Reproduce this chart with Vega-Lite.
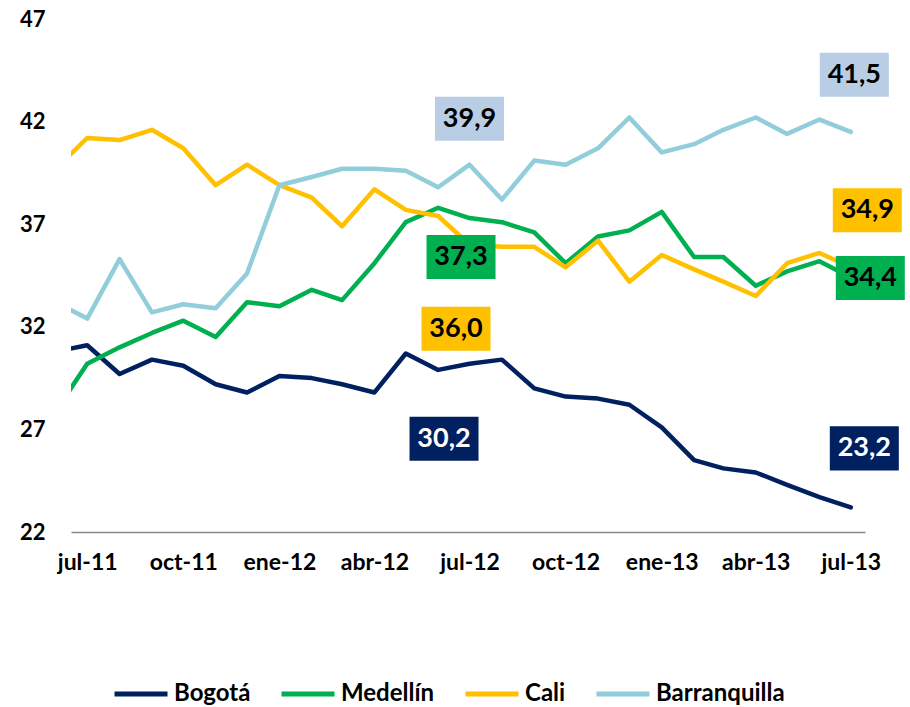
{
  "$schema": "https://vega.github.io/schema/vega-lite/v6.json",
  "width": 794,
  "height": 513,
  "autosize": {"type": "none"},
  "padding": {"left": 71, "top": 19, "right": 45, "bottom": 175},
  "background": "white",
  "config": {"view": {"stroke": null}, "font": "Lato"},
  "data": {
    "format": {"parse": {"month": "date"}},
    "values": [
      {"city": "Bogotá", "month": "2011-06-01", "value": 30.8},
      {"city": "Bogotá", "month": "2011-07-01", "value": 31.1},
      {"city": "Bogotá", "month": "2011-08-01", "value": 29.7},
      {"city": "Bogotá", "month": "2011-09-01", "value": 30.4},
      {"city": "Bogotá", "month": "2011-10-01", "value": 30.1},
      {"city": "Bogotá", "month": "2011-11-01", "value": 29.2},
      {"city": "Bogotá", "month": "2011-12-01", "value": 28.8},
      {"city": "Bogotá", "month": "2012-01-01", "value": 29.6},
      {"city": "Bogotá", "month": "2012-02-01", "value": 29.5},
      {"city": "Bogotá", "month": "2012-03-01", "value": 29.2},
      {"city": "Bogotá", "month": "2012-04-01", "value": 28.8},
      {"city": "Bogotá", "month": "2012-05-01", "value": 30.7},
      {"city": "Bogotá", "month": "2012-06-01", "value": 29.9},
      {"city": "Bogotá", "month": "2012-07-01", "value": 30.2},
      {"city": "Bogotá", "month": "2012-08-01", "value": 30.4},
      {"city": "Bogotá", "month": "2012-09-01", "value": 29.0},
      {"city": "Bogotá", "month": "2012-10-01", "value": 28.6},
      {"city": "Bogotá", "month": "2012-11-01", "value": 28.5},
      {"city": "Bogotá", "month": "2012-12-01", "value": 28.2},
      {"city": "Bogotá", "month": "2013-01-01", "value": 27.1},
      {"city": "Bogotá", "month": "2013-02-01", "value": 25.5},
      {"city": "Bogotá", "month": "2013-03-01", "value": 25.1},
      {"city": "Bogotá", "month": "2013-04-01", "value": 24.9},
      {"city": "Bogotá", "month": "2013-05-01", "value": 24.3},
      {"city": "Bogotá", "month": "2013-06-01", "value": 23.7},
      {"city": "Bogotá", "month": "2013-07-01", "value": 23.2},
      {"city": "Medellín", "month": "2011-06-01", "value": 27.9},
      {"city": "Medellín", "month": "2011-07-01", "value": 30.2},
      {"city": "Medellín", "month": "2011-08-01", "value": 31.0},
      {"city": "Medellín", "month": "2011-09-01", "value": 31.7},
      {"city": "Medellín", "month": "2011-10-01", "value": 32.3},
      {"city": "Medellín", "month": "2011-11-01", "value": 31.5},
      {"city": "Medellín", "month": "2011-12-01", "value": 33.2},
      {"city": "Medellín", "month": "2012-01-01", "value": 33.0},
      {"city": "Medellín", "month": "2012-02-01", "value": 33.8},
      {"city": "Medellín", "month": "2012-03-01", "value": 33.3},
      {"city": "Medellín", "month": "2012-04-01", "value": 35.1},
      {"city": "Medellín", "month": "2012-05-01", "value": 37.1},
      {"city": "Medellín", "month": "2012-06-01", "value": 37.8},
      {"city": "Medellín", "month": "2012-07-01", "value": 37.3},
      {"city": "Medellín", "month": "2012-08-01", "value": 37.1},
      {"city": "Medellín", "month": "2012-09-01", "value": 36.6},
      {"city": "Medellín", "month": "2012-10-01", "value": 35.1},
      {"city": "Medellín", "month": "2012-11-01", "value": 36.4},
      {"city": "Medellín", "month": "2012-12-01", "value": 36.7},
      {"city": "Medellín", "month": "2013-01-01", "value": 37.6},
      {"city": "Medellín", "month": "2013-02-01", "value": 35.4},
      {"city": "Medellín", "month": "2013-03-01", "value": 35.4},
      {"city": "Medellín", "month": "2013-04-01", "value": 34.0},
      {"city": "Medellín", "month": "2013-05-01", "value": 34.7},
      {"city": "Medellín", "month": "2013-06-01", "value": 35.2},
      {"city": "Medellín", "month": "2013-07-01", "value": 34.4},
      {"city": "Cali", "month": "2011-06-01", "value": 39.7},
      {"city": "Cali", "month": "2011-07-01", "value": 41.2},
      {"city": "Cali", "month": "2011-08-01", "value": 41.1},
      {"city": "Cali", "month": "2011-09-01", "value": 41.6},
      {"city": "Cali", "month": "2011-10-01", "value": 40.7},
      {"city": "Cali", "month": "2011-11-01", "value": 38.9},
      {"city": "Cali", "month": "2011-12-01", "value": 39.9},
      {"city": "Cali", "month": "2012-01-01", "value": 38.9},
      {"city": "Cali", "month": "2012-02-01", "value": 38.3},
      {"city": "Cali", "month": "2012-03-01", "value": 36.9},
      {"city": "Cali", "month": "2012-04-01", "value": 38.7},
      {"city": "Cali", "month": "2012-05-01", "value": 37.7},
      {"city": "Cali", "month": "2012-06-01", "value": 37.4},
      {"city": "Cali", "month": "2012-07-01", "value": 36.0},
      {"city": "Cali", "month": "2012-08-01", "value": 35.9},
      {"city": "Cali", "month": "2012-09-01", "value": 35.9},
      {"city": "Cali", "month": "2012-10-01", "value": 34.9},
      {"city": "Cali", "month": "2012-11-01", "value": 36.2},
      {"city": "Cali", "month": "2012-12-01", "value": 34.2},
      {"city": "Cali", "month": "2013-01-01", "value": 35.5},
      {"city": "Cali", "month": "2013-02-01", "value": 34.8},
      {"city": "Cali", "month": "2013-03-01", "value": 34.2},
      {"city": "Cali", "month": "2013-04-01", "value": 33.5},
      {"city": "Cali", "month": "2013-05-01", "value": 35.1},
      {"city": "Cali", "month": "2013-06-01", "value": 35.6},
      {"city": "Cali", "month": "2013-07-01", "value": 34.9},
      {"city": "Barranquilla", "month": "2011-06-01", "value": 33.2},
      {"city": "Barranquilla", "month": "2011-07-01", "value": 32.4},
      {"city": "Barranquilla", "month": "2011-08-01", "value": 35.3},
      {"city": "Barranquilla", "month": "2011-09-01", "value": 32.7},
      {"city": "Barranquilla", "month": "2011-10-01", "value": 33.1},
      {"city": "Barranquilla", "month": "2011-11-01", "value": 32.9},
      {"city": "Barranquilla", "month": "2011-12-01", "value": 34.6},
      {"city": "Barranquilla", "month": "2012-01-01", "value": 38.9},
      {"city": "Barranquilla", "month": "2012-02-01", "value": 39.3},
      {"city": "Barranquilla", "month": "2012-03-01", "value": 39.7},
      {"city": "Barranquilla", "month": "2012-04-01", "value": 39.7},
      {"city": "Barranquilla", "month": "2012-05-01", "value": 39.6},
      {"city": "Barranquilla", "month": "2012-06-01", "value": 38.8},
      {"city": "Barranquilla", "month": "2012-07-01", "value": 39.9},
      {"city": "Barranquilla", "month": "2012-08-01", "value": 38.2},
      {"city": "Barranquilla", "month": "2012-09-01", "value": 40.1},
      {"city": "Barranquilla", "month": "2012-10-01", "value": 39.9},
      {"city": "Barranquilla", "month": "2012-11-01", "value": 40.7},
      {"city": "Barranquilla", "month": "2012-12-01", "value": 42.2},
      {"city": "Barranquilla", "month": "2013-01-01", "value": 40.5},
      {"city": "Barranquilla", "month": "2013-02-01", "value": 40.9},
      {"city": "Barranquilla", "month": "2013-03-01", "value": 41.6},
      {"city": "Barranquilla", "month": "2013-04-01", "value": 42.2},
      {"city": "Barranquilla", "month": "2013-05-01", "value": 41.4},
      {"city": "Barranquilla", "month": "2013-06-01", "value": 42.1},
      {"city": "Barranquilla", "month": "2013-07-01", "value": 41.5}
    ]
  },
  "encoding": {
    "x": {
      "field": "month",
      "type": "temporal",
      "scale": {
        "type": "utc",
        "domain": [
          {"year": 2011, "month": 6, "date": 15, "hours": 12, "utc": true},
          {"year": 2013, "month": 7, "date": 14, "hours": 14, "utc": true}
        ]
      },
      "axis": {
        "title": null,
        "grid": false,
        "ticks": false,
        "domainColor": "#8a8a8a",
        "domainWidth": 1.5,
        "values": [
          {"year": 2011, "month": 7, "date": 1, "utc": true},
          {"year": 2011, "month": 10, "date": 1, "utc": true},
          {"year": 2012, "month": 1, "date": 1, "utc": true},
          {"year": 2012, "month": 4, "date": 1, "utc": true},
          {"year": 2012, "month": 7, "date": 1, "utc": true},
          {"year": 2012, "month": 10, "date": 1, "utc": true},
          {"year": 2013, "month": 1, "date": 1, "utc": true},
          {"year": 2013, "month": 4, "date": 1, "utc": true},
          {"year": 2013, "month": 7, "date": 1, "utc": true}
        ],
        "labelExpr": "['ene','feb','mar','abr','may','jun','jul','ago','sep','oct','nov','dic'][utcmonth(datum.value)] + '-' + utcFormat(datum.value, '%y')",
        "labelFont": "Lato",
        "labelFontSize": 23,
        "labelFontWeight": "bold",
        "labelColor": "#000000",
        "labelPadding": 19,
        "labelFlush": false,
        "labelOverlap": false
      }
    },
    "y": {
      "field": "value",
      "type": "quantitative",
      "scale": {"domain": [22, 47], "nice": false, "zero": false},
      "axis": {
        "title": null,
        "grid": false,
        "domain": false,
        "ticks": false,
        "values": [22, 27, 32, 37, 42, 47],
        "labelFont": "Lato",
        "labelFontSize": 22,
        "labelFontWeight": "bold",
        "labelColor": "#000000",
        "labelPadding": 26
      }
    }
  },
  "layer": [
    {
      "mark": {"type": "line", "strokeWidth": 4.5, "clip": true, "strokeJoin": "round", "strokeCap": "round"},
      "encoding": {
        "color": {
          "field": "city",
          "type": "nominal",
          "scale": {
            "domain": ["Bogotá", "Medellín", "Cali", "Barranquilla"],
            "range": ["#002060", "#00B050", "#FFC000", "#92CDDC"]
          },
          "legend": {
            "orient": "none",
            "legendX": 41,
            "legendY": 646,
            "direction": "horizontal",
            "title": null,
            "symbolType": "stroke",
            "symbolStrokeWidth": 5,
            "symbolSize": 2809,
            "labelFont": "Lato",
            "labelFontSize": 24,
            "labelFontWeight": "bold",
            "labelColor": "#000000",
            "labelOffset": 4,
            "columnPadding": 20,
            "padding": 0
          }
        }
      }
    },
    {
      "transform": [
        {"filter": {"and": [{"field": "city", "equal": "Barranquilla"}, {"field": "month", "equal": {"year": 2012, "month": 7, "date": 1, "utc": true}}]}},
        {"calculate": "replace(format(datum.value, '.1f'), '.', ',')", "as": "label"}
      ],
      "layer": [
        {"mark": {"type": "point", "shape": "M-1,-0.638H1V0.638H-1Z", "size": 4761, "filled": true, "opacity": 1, "color": "#B9CDE5", "strokeWidth": 0, "xOffset": 0, "yOffset": -46}},
        {"mark": {"type": "text", "font": "Lato", "fontSize": 27, "fontWeight": "bold", "color": "#000000", "baseline": "middle", "align": "center", "dx": 0, "dy": -46}, "encoding": {"text": {"field": "label"}}}
      ]
    },
    {
      "transform": [
        {"filter": {"and": [{"field": "city", "equal": "Medellín"}, {"field": "month", "equal": {"year": 2012, "month": 7, "date": 1, "utc": true}}]}},
        {"calculate": "replace(format(datum.value, '.1f'), '.', ',')", "as": "label"}
      ],
      "layer": [
        {"mark": {"type": "point", "shape": "M-1,-0.638H1V0.638H-1Z", "size": 4761, "filled": true, "opacity": 1, "color": "#00B050", "strokeWidth": 0, "xOffset": -8.5, "yOffset": 39}},
        {"mark": {"type": "text", "font": "Lato", "fontSize": 27, "fontWeight": "bold", "color": "#000000", "baseline": "middle", "align": "center", "dx": -8.5, "dy": 39}, "encoding": {"text": {"field": "label"}}}
      ]
    },
    {
      "transform": [
        {"filter": {"and": [{"field": "city", "equal": "Cali"}, {"field": "month", "equal": {"year": 2012, "month": 7, "date": 1, "utc": true}}]}},
        {"calculate": "replace(format(datum.value, '.1f'), '.', ',')", "as": "label"}
      ],
      "layer": [
        {"mark": {"type": "point", "shape": "M-1,-0.638H1V0.638H-1Z", "size": 4761, "filled": true, "opacity": 1, "color": "#FFC000", "strokeWidth": 0, "xOffset": -13.5, "yOffset": 84}},
        {"mark": {"type": "text", "font": "Lato", "fontSize": 27, "fontWeight": "bold", "color": "#000000", "baseline": "middle", "align": "center", "dx": -13.5, "dy": 84}, "encoding": {"text": {"field": "label"}}}
      ]
    },
    {
      "transform": [
        {"filter": {"and": [{"field": "city", "equal": "Bogotá"}, {"field": "month", "equal": {"year": 2012, "month": 7, "date": 1, "utc": true}}]}},
        {"calculate": "replace(format(datum.value, '.1f'), '.', ',')", "as": "label"}
      ],
      "layer": [
        {"mark": {"type": "point", "shape": "M-1,-0.638H1V0.638H-1Z", "size": 4761, "filled": true, "opacity": 1, "color": "#002060", "strokeWidth": 0, "xOffset": -25.5, "yOffset": 75}},
        {"mark": {"type": "text", "font": "Lato", "fontSize": 27, "fontWeight": "bold", "color": "#FFFFFF", "baseline": "middle", "align": "center", "dx": -25.5, "dy": 75}, "encoding": {"text": {"field": "label"}}}
      ]
    },
    {
      "transform": [
        {"filter": {"and": [{"field": "city", "equal": "Barranquilla"}, {"field": "month", "equal": {"year": 2013, "month": 7, "date": 1, "utc": true}}]}},
        {"calculate": "replace(format(datum.value, '.1f'), '.', ',')", "as": "label"}
      ],
      "layer": [
        {"mark": {"type": "point", "shape": "M-1,-0.638H1V0.638H-1Z", "size": 4761, "filled": true, "opacity": 1, "color": "#B9CDE5", "strokeWidth": 0, "xOffset": 3.5, "yOffset": -57}},
        {"mark": {"type": "text", "font": "Lato", "fontSize": 27, "fontWeight": "bold", "color": "#000000", "baseline": "middle", "align": "center", "dx": 3.5, "dy": -57}, "encoding": {"text": {"field": "label"}}}
      ]
    },
    {
      "transform": [
        {"filter": {"and": [{"field": "city", "equal": "Cali"}, {"field": "month", "equal": {"year": 2013, "month": 7, "date": 1, "utc": true}}]}},
        {"calculate": "replace(format(datum.value, '.1f'), '.', ',')", "as": "label"}
      ],
      "layer": [
        {"mark": {"type": "point", "shape": "M-1,-0.638H1V0.638H-1Z", "size": 4761, "filled": true, "opacity": 1, "color": "#FFC000", "strokeWidth": 0, "xOffset": 16.5, "yOffset": -57}},
        {"mark": {"type": "text", "font": "Lato", "fontSize": 27, "fontWeight": "bold", "color": "#000000", "baseline": "middle", "align": "center", "dx": 16.5, "dy": -57}, "encoding": {"text": {"field": "label"}}}
      ]
    },
    {
      "transform": [
        {"filter": {"and": [{"field": "city", "equal": "Medellín"}, {"field": "month", "equal": {"year": 2013, "month": 7, "date": 1, "utc": true}}]}},
        {"calculate": "replace(format(datum.value, '.1f'), '.', ',')", "as": "label"}
      ],
      "layer": [
        {"mark": {"type": "point", "shape": "M-1,-0.638H1V0.638H-1Z", "size": 4761, "filled": true, "opacity": 1, "color": "#00B050", "strokeWidth": 0, "xOffset": 19.5, "yOffset": 0.5}},
        {"mark": {"type": "text", "font": "Lato", "fontSize": 27, "fontWeight": "bold", "color": "#000000", "baseline": "middle", "align": "center", "dx": 19.5, "dy": 0.5}, "encoding": {"text": {"field": "label"}}}
      ]
    },
    {
      "transform": [
        {"filter": {"and": [{"field": "city", "equal": "Bogotá"}, {"field": "month", "equal": {"year": 2013, "month": 7, "date": 1, "utc": true}}]}},
        {"calculate": "replace(format(datum.value, '.1f'), '.', ',')", "as": "label"}
      ],
      "layer": [
        {"mark": {"type": "point", "shape": "M-1,-0.638H1V0.638H-1Z", "size": 4761, "filled": true, "opacity": 1, "color": "#002060", "strokeWidth": 0, "xOffset": 13.5, "yOffset": -59}},
        {"mark": {"type": "text", "font": "Lato", "fontSize": 27, "fontWeight": "bold", "color": "#FFFFFF", "baseline": "middle", "align": "center", "dx": 13.5, "dy": -59}, "encoding": {"text": {"field": "label"}}}
      ]
    }
  ]
}
